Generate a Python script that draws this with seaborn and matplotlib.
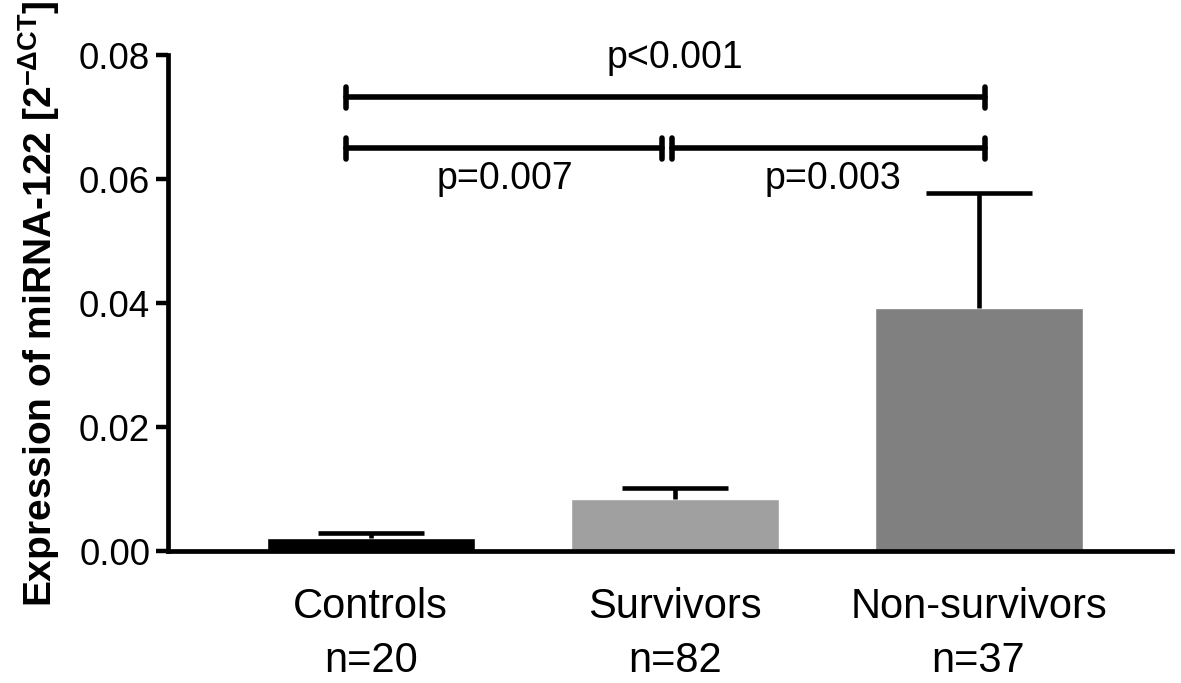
import matplotlib
matplotlib.use("Agg")
import matplotlib.pyplot as plt
import seaborn as sns
import pandas as pd

categories = ["Controls\nn=20", "Survivors\nn=82", "Non-survivors\nn=37"]
means = [0.0022, 0.0084, 0.0392]
sem = [0.0007, 0.0018, 0.0186]
colors = ["#000000", "#a0a0a0", "#808080"]

# significance brackets: (x_start, x_end, y, label, label_x, label_y)
brackets = [(-0.08, 2.02, 0.0732, "p<0.001", 1.0, 0.0795),
            (-0.08, 0.96, 0.0650, "p=0.007", 0.44, 0.0600),
            (0.99, 2.02, 0.0650, "p=0.003", 1.52, 0.0600)]

sns.set_theme(style="ticks")
plt.rcParams["font.family"] = ["Liberation Sans", "DejaVu Sans"]
plt.rcParams["mathtext.fontset"] = "custom"
plt.rcParams["mathtext.rm"] = "Liberation Sans"
plt.rcParams["mathtext.it"] = "Liberation Sans"
plt.rcParams["mathtext.bf"] = "Liberation Sans:bold"
for k in ["text.color", "axes.labelcolor", "xtick.color", "ytick.color", "axes.edgecolor"]:
    plt.rcParams[k] = "black"

df = pd.DataFrame({"group": categories, "value": means})

fig = plt.figure(figsize=(11.81, 6.83), dpi=100)
ax = fig.add_axes([0.142, 0.193, 0.850, 0.726])

sns.barplot(data=df, x="group", y="value", hue="group", palette=colors,
            order=categories, width=0.684, errorbar=None, legend=False,
            saturation=1, ax=ax)
for c in ax.patches:
    c.set_zorder(2)

eb = ax.errorbar(range(len(categories)), means, yerr=[[0] * 3, sem], fmt="none",
                 ecolor="black", elinewidth=3.3, capsize=38, capthick=3.3, zorder=3)
caps = eb[1]
if len(caps) == 2:
    caps[0].set_visible(False)

for x0, x1, y, lab, lx, ly in brackets:
    ax.plot([x0, x1], [y, y], color="black", lw=4, solid_capstyle="round", zorder=4)
    for xx in (x0, x1):
        ax.plot([xx, xx], [y - 0.0017, y + 0.0017], color="black", lw=4,
                solid_capstyle="round", zorder=4)
    ax.text(lx, ly, lab, ha="center", va="center", fontsize=27, color="black")

ax.set_xlim(-0.668, 2.635)
ax.set_ylim(0, 0.08)
ax.set_yticks([0, 0.02, 0.04, 0.06, 0.08])
ax.set_yticklabels(["0.00", "0.02", "0.04", "0.06", "0.08"])
ax.tick_params(axis="y", labelsize=26.5, width=3.2, length=8.6, pad=4)
ax.tick_params(axis="x", labelsize=30, length=0, pad=26)
for lab in ax.get_xticklabels():
    lab.set_linespacing(1.45)
ax.set_xlabel("")
ax.set_ylabel(r"Expression of miRNA-122 [2$^{\mathregular{-ΔCT}}$]",
              fontsize=28, fontweight="bold", labelpad=12)
for s in ["top", "right"]:
    ax.spines[s].set_visible(False)
for s in ["left", "bottom"]:
    ax.spines[s].set_linewidth(3.4)

fig.savefig("out.png", dpi=100)
